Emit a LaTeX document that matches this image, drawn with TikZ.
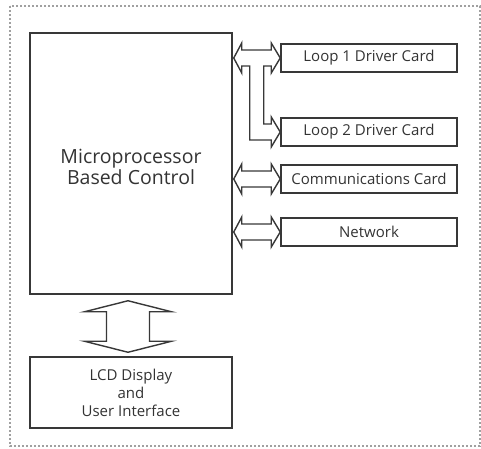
\documentclass[tikz,border=0pt]{standalone}
\usepackage{fontspec}
\setmainfont{Open Sans}
\usetikzlibrary{calc}
\definecolor{linec}{HTML}{383838}
\definecolor{textc}{HTML}{333333}
\definecolor{borderc}{HTML}{A0A0A0}
\tikzset{
  box/.style={draw=linec, line width=1.5pt, rectangle, inner sep=0pt, text=textc, anchor=center},
  cardbox/.style={box, minimum width=176pt, minimum height=28pt, font=\fontsize{15}{18}\selectfont},
  arr/.style={draw=linec, fill=white, line width=1.4pt, line join=miter},
  frame/.style={draw=borderc, line width=1.3pt, dash pattern=on 2.2pt off 1.8pt},
}
\begin{document}
\begin{tikzpicture}[x=1pt, y=-1pt]
\useasboundingbox (0,0) rectangle (481,448);
\draw[frame] (10,6) rectangle (480,446);

\node[box, minimum width=202pt, minimum height=261pt,
  label={[name=maintext, text=textc, align=center, yshift=-3pt,
          font=\fontsize{19.5}{21}\selectfont]center:Microprocessor\\Based Control}]
  (main) at (131,163.5) {};
\node[box, minimum width=202pt, minimum height=71pt, align=center,
  font=\fontsize{15}{18}\selectfont] (lcd) at (131,392.5) {LCD Display\\and\\User Interface};

\node[cardbox] (l1) at (369,58) {Loop 1 Driver Card};
\node[cardbox] (l2) at (369,132) {Loop 2 Driver Card};
\node[cardbox] (comm) at (369,179) {Communications Card};
\node[cardbox] (net) at (369,232) {Network};

\coordinate (t1) at ($(main.east |- l1.west)+(1,0)$);
\coordinate (tc) at ($(main.east |- comm.west)+(1,0)$);
\coordinate (tn) at ($(main.east |- net.west)+(1,0)$);

% loop 1 / loop 2 branched double arrow
\draw[arr] let \p1=(t1), \p2=(l1.west), \p3=(l2.west) in
  (\x1,\y1) -- (\x1+8pt,\y1+15pt) -- (\x1+8pt,\y1+8pt) -- (\x2-9pt,\y2+8pt)
  -- (\x2-9pt,\y2+15pt) -- (\x2,\y2) -- (\x2-9pt,\y2-15pt) -- (\x2-9pt,\y2-8pt)
  -- (\x1+30pt,\y2-8pt) -- (\x1+30pt,\y3+8pt) -- (\x3-9pt,\y3+8pt)
  -- (\x3-9pt,\y3+15pt) -- (\x3,\y3) -- (\x3-9pt,\y3-15pt) -- (\x3-9pt,\y3-8pt)
  -- (\x1+16pt,\y3-8pt) -- (\x1+16pt,\y1-8pt) -- (\x1+8pt,\y1-8pt)
  -- (\x1+8pt,\y1-15pt) -- cycle;

% communications double arrow
\draw[arr] let \p1=(tc), \p2=(comm.west) in
  (\x1,\y1) -- (\x1+8pt,\y1+15pt) -- (\x1+8pt,\y1+8pt) -- (\x2-9pt,\y2+8pt)
  -- (\x2-9pt,\y2+15pt) -- (\x2,\y2) -- (\x2-9pt,\y2-15pt) -- (\x2-9pt,\y2-8pt)
  -- (\x1+8pt,\y1-8pt) -- (\x1+8pt,\y1-15pt) -- cycle;

% network double arrow
\draw[arr] let \p1=(tn), \p2=(net.west) in
  (\x1,\y1) -- (\x1+8pt,\y1+15pt) -- (\x1+8pt,\y1+8pt) -- (\x2-9pt,\y2+8pt)
  -- (\x2-9pt,\y2+15pt) -- (\x2,\y2) -- (\x2-9pt,\y2-15pt) -- (\x2-9pt,\y2-8pt)
  -- (\x1+8pt,\y1-8pt) -- (\x1+8pt,\y1-15pt) -- cycle;

% vertical double arrow between main and LCD
\coordinate (vt) at ($(main.south)+(-3,6)$);
\coordinate (vb) at ($(lcd.north)+(-3,-4)$);
\draw[arr] let \p1=(vt), \p2=(vb) in
  (\x1,\y1) -- (\x1+43.5pt,\y1-11pt) -- (\x1+21.5pt,\y1-11pt) -- (\x1+21.5pt,\y2+11pt)
  -- (\x1+43.5pt,\y2+11pt) -- (\x2,\y2) -- (\x1-43.5pt,\y2+11pt) -- (\x1-21.5pt,\y2+11pt)
  -- (\x1-21.5pt,\y1-11pt) -- (\x1-43.5pt,\y1-11pt) -- cycle;
\end{tikzpicture}
\end{document}
